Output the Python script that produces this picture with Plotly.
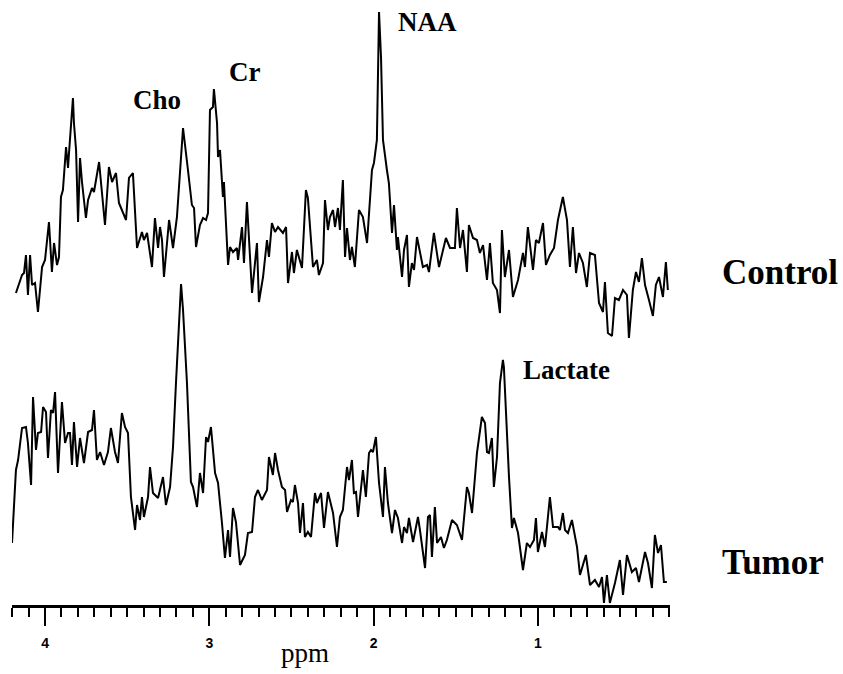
import plotly.graph_objects as go

# ---- Data (chemical shift in ppm, intensity in arbitrary units incl. stacking offset) ----
control_ppm = [4.177, 4.140, 4.128, 4.116, 4.104, 4.091, 4.079, 4.061, 4.043, 4.018, 4.000, 3.976, 3.958, 3.945,
               3.927, 3.915, 3.903, 3.891, 3.872, 3.860, 3.854, 3.830, 3.824, 3.811, 3.799, 3.787, 3.775, 3.751,
               3.738, 3.714, 3.702, 3.671, 3.635, 3.611, 3.592, 3.568, 3.550, 3.507, 3.489, 3.465, 3.440, 3.410,
               3.398, 3.379, 3.349, 3.331, 3.312, 3.300, 3.288, 3.276, 3.245, 3.221, 3.197, 3.160, 3.130, 3.106,
               3.093, 3.081, 3.057, 3.038, 3.020, 3.008, 2.996, 2.978, 2.972, 2.953, 2.947, 2.935, 2.917, 2.911,
               2.886, 2.874, 2.856, 2.832, 2.825, 2.801, 2.789, 2.771, 2.740, 2.710, 2.698, 2.673, 2.649, 2.637,
               2.619, 2.600, 2.582, 2.552, 2.533, 2.521, 2.497, 2.485, 2.467, 2.448, 2.436, 2.412, 2.400, 2.369,
               2.345, 2.333, 2.308, 2.296, 2.278, 2.266, 2.247, 2.235, 2.217, 2.205, 2.187, 2.174, 2.162, 2.144,
               2.132, 2.114, 2.089, 2.065, 2.040, 2.010, 1.998, 1.980, 1.967, 1.955, 1.943, 1.919, 1.907, 1.888,
               1.876, 1.858, 1.852, 1.827, 1.815, 1.797, 1.785, 1.767, 1.754, 1.736, 1.700, 1.675, 1.663, 1.633,
               1.602, 1.560, 1.535, 1.505, 1.493, 1.474, 1.456, 1.432, 1.420, 1.395, 1.371, 1.353, 1.334, 1.310,
               1.292, 1.274, 1.249, 1.231, 1.219, 1.201, 1.176, 1.152, 1.121, 1.091, 1.079, 1.061, 1.030, 1.012,
               0.994, 0.969, 0.951, 0.927, 0.902, 0.878, 0.848, 0.823, 0.805, 0.787, 0.768, 0.750, 0.726, 0.702,
               0.683, 0.653, 0.628, 0.604, 0.592, 0.574, 0.549, 0.531, 0.507, 0.482, 0.458, 0.446, 0.422, 0.403,
               0.385, 0.367, 0.348, 0.324, 0.300, 0.282, 0.263, 0.239, 0.221, 0.209]
control_int = [312, 330, 332, 350, 310, 350, 320, 322, 293, 338, 345, 383, 333, 362,
               340, 348, 408, 415, 458, 437, 452, 507, 482, 455, 383, 447, 423, 387,
               405, 417, 413, 443, 380, 438, 423, 432, 402, 385, 427, 432, 357, 373,
               365, 372, 338, 387, 357, 378, 365, 328, 385, 357, 388, 477, 435, 400,
               397, 358, 380, 387, 385, 392, 495, 498, 516, 482, 448, 455, 408, 423,
               340, 358, 353, 357, 345, 378, 342, 403, 312, 362, 303, 328, 365, 348,
               382, 373, 378, 372, 378, 322, 353, 332, 355, 345, 337, 415, 407, 338,
               345, 330, 342, 405, 375, 388, 395, 378, 397, 375, 425, 348, 377, 345,
               358, 338, 395, 388, 362, 435, 442, 465, 593, 548, 465, 435, 422, 372,
               400, 355, 368, 328, 355, 370, 318, 342, 335, 368, 338, 340, 333, 372,
               338, 367, 357, 357, 397, 357, 375, 333, 380, 367, 365, 352, 360, 325,
               362, 322, 315, 292, 375, 328, 355, 308, 325, 352, 338, 378, 335, 365,
               362, 382, 340, 350, 357, 385, 408, 385, 338, 378, 332, 352, 342, 318,
               352, 350, 302, 293, 323, 272, 269, 307, 305, 315, 310, 267, 315, 333,
               323, 347, 320, 305, 289, 320, 328, 308, 343, 315]

tumor_ppm = [4.201, 4.177, 4.164, 4.140, 4.116, 4.104, 4.085, 4.073, 4.055, 4.043, 4.024, 4.012, 3.994, 3.982,
             3.964, 3.951, 3.939, 3.921, 3.897, 3.878, 3.860, 3.848, 3.836, 3.824, 3.805, 3.787, 3.763, 3.738,
             3.714, 3.702, 3.684, 3.665, 3.641, 3.617, 3.599, 3.574, 3.556, 3.532, 3.513, 3.495, 3.477, 3.452,
             3.440, 3.422, 3.410, 3.398, 3.373, 3.361, 3.343, 3.312, 3.282, 3.264, 3.239, 3.221, 3.203, 3.172,
             3.160, 3.136, 3.112, 3.099, 3.075, 3.057, 3.038, 3.020, 3.008, 2.990, 2.965, 2.947, 2.923, 2.905,
             2.886, 2.874, 2.856, 2.838, 2.813, 2.783, 2.765, 2.740, 2.722, 2.704, 2.680, 2.649, 2.637, 2.613,
             2.600, 2.582, 2.558, 2.539, 2.527, 2.503, 2.491, 2.479, 2.460, 2.448, 2.430, 2.418, 2.400, 2.381,
             2.357, 2.345, 2.320, 2.302, 2.278, 2.247, 2.223, 2.205, 2.187, 2.162, 2.150, 2.132, 2.120, 2.107,
             2.095, 2.065, 2.047, 2.028, 2.016, 2.004, 1.986, 1.967, 1.943, 1.931, 1.913, 1.888, 1.870, 1.852,
             1.827, 1.815, 1.797, 1.785, 1.760, 1.730, 1.718, 1.687, 1.669, 1.657, 1.645, 1.627, 1.614, 1.590,
             1.572, 1.554, 1.523, 1.493, 1.462, 1.432, 1.420, 1.401, 1.371, 1.341, 1.322, 1.310, 1.298, 1.280,
             1.268, 1.249, 1.231, 1.213, 1.207, 1.188, 1.176, 1.158, 1.146, 1.121, 1.091, 1.067, 1.048, 1.024,
             1.012, 1.000, 0.975, 0.957, 0.927, 0.908, 0.878, 0.866, 0.848, 0.835, 0.817, 0.793, 0.762, 0.744,
             0.708, 0.683, 0.653, 0.628, 0.610, 0.598, 0.580, 0.562, 0.531, 0.501, 0.482, 0.458, 0.428, 0.403,
             0.385, 0.348, 0.330, 0.306, 0.288, 0.269, 0.251, 0.233, 0.215]
tumor_int = [62, 135, 145, 177, 178, 162, 120, 208, 155, 172, 173, 198, 193, 147,
             195, 192, 213, 132, 203, 162, 172, 172, 140, 183, 138, 167, 142, 173,
             175, 195, 145, 153, 140, 153, 177, 153, 142, 192, 178, 172, 108, 75,
             100, 85, 108, 88, 108, 138, 112, 107, 128, 100, 118, 158, 222, 321,
             295, 222, 123, 118, 98, 132, 112, 168, 163, 178, 132, 122, 82, 47,
             75, 48, 97, 83, 40, 50, 72, 73, 108, 115, 105, 115, 148, 130,
             152, 135, 118, 115, 93, 105, 103, 120, 102, 72, 102, 68, 73, 68,
             112, 102, 112, 77, 113, 92, 58, 88, 95, 138, 125, 145, 112, 113,
             88, 135, 108, 152, 155, 153, 168, 122, 88, 138, 102, 72, 95, 87,
             62, 78, 72, 87, 63, 88, 75, 37, 88, 90, 48, 98, 62, 68,
             57, 65, 85, 80, 65, 118, 112, 92, 152, 188, 182, 153, 152, 167,
             118, 148, 222, 245, 238, 162, 128, 77, 87, 72, 35, 62, 58, 65,
             87, 53, 73, 58, 108, 78, 78, 75, 92, 75, 72, 85, 58, 30,
             50, 20, 25, 18, 28, 2, 30, 2, 22, 45, 10, 50, 33, 37,
             23, 53, 42, 17, 70, 52, 60, 23, 23]

tick_values = [4, 3, 2, 1]
tick_labels = ["4", "3", "2", "1"]

peak_labels = ["Cho", "Cr", "NAA", "Lactate"]
peak_label_ppm = [3.318, 2.783, 1.675, 0.823]
peak_label_int = [505, 533, 583, 235]

series_names = ["Control", "Tumor"]

fig = go.Figure()
fig.add_trace(go.Scatter(x=control_ppm, y=control_int, mode="lines", name=series_names[0],
                         line=dict(color="black", width=2), showlegend=False))
fig.add_trace(go.Scatter(x=tumor_ppm, y=tumor_int, mode="lines", name=series_names[1],
                         line=dict(color="black", width=2), showlegend=False, cliponaxis=False))

for txt, px, py in zip(peak_labels, peak_label_ppm, peak_label_int):
    fig.add_annotation(x=px, y=py, xref="x", yref="y", text=txt, showarrow=False,
                       xanchor="center", yanchor="middle",
                       font=dict(family="Liberation Serif", size=27, color="black", weight="bold"))

fig.add_annotation(x=1.076, y=0.550, xref="paper", yref="paper", xanchor="left", yanchor="middle",
                   text=series_names[0], showarrow=False,
                   font=dict(family="Liberation Serif", size=35, color="black", weight="bold"))
fig.add_annotation(x=1.076, y=0.071, xref="paper", yref="paper", xanchor="left", yanchor="middle",
                   text=series_names[1], showarrow=False,
                   font=dict(family="Liberation Serif", size=35, color="black", weight="bold"))
fig.add_annotation(x=0.445, y=-0.079, xref="paper", yref="paper", xanchor="center", yanchor="middle",
                   text="ppm", showarrow=False,
                   font=dict(family="Liberation Serif", size=27, color="black"))

fig.update_layout(
    width=843, height=674,
    margin=dict(l=12, r=173, t=0, b=69),
    paper_bgcolor="white", plot_bgcolor="white",
    xaxis=dict(range=[4.201, 0.196], showgrid=False, zeroline=False,
               showline=True, linecolor="black", linewidth=2.5,
               ticks="outside", ticklen=18, tickwidth=2, tickcolor="black",
               tickvals=tick_values, ticktext=tick_labels, ticklabelstandoff=5,
               tickfont=dict(family="Liberation Sans", size=14, color="black", weight="bold"),
               minor=dict(ticks="outside", dtick=0.1, tick0=0, ticklen=9, tickwidth=1.5, tickcolor="black")),
    yaxis=dict(range=[0, 605], visible=False, showgrid=False, zeroline=False),
)

fig.write_html("out.html")
